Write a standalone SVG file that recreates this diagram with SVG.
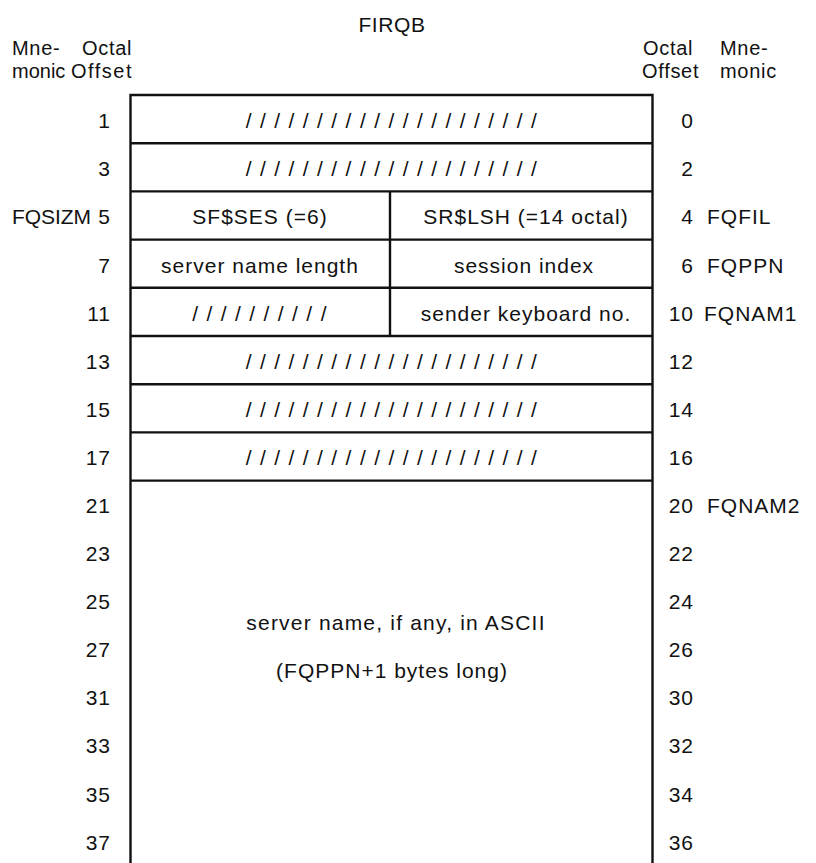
<svg xmlns="http://www.w3.org/2000/svg" width="816" height="863" viewBox="0 0 816 863">
<style>
text{font-family:"Liberation Sans",Arial,sans-serif;font-size:21px;fill:#111;letter-spacing:1px}
.h{font-size:20px;letter-spacing:0.7px}
.c{text-anchor:middle}
.r{text-anchor:end}
.sl{letter-spacing:1.3px}
.box{fill:none;stroke:#111;stroke-width:2.4}
</style>
<rect width="816" height="863" fill="#fff"/>
<g id="header">
<text x="392" y="32" class="c" style="letter-spacing:0.6px">FIRQB</text>
<text x="12" y="55" class="h">Mne-</text>
<text x="82" y="55" class="h">Octal</text>
<text x="12" y="78" class="h" style="letter-spacing:0px">monic</text>
<text x="71" y="78" class="h" style="letter-spacing:1.5px">Offset</text>
<text x="643" y="55" class="h">Octal</text>
<text x="642" y="78" class="h">Offset</text>
<text x="720" y="55" class="h">Mne-</text>
<text x="720" y="78" class="h">monic</text>
</g>
<g id="frame">
<path class="box" d="M130.5,863 V95 H652.5 V863"/>
<path class="box" d="M130.5,143.2 H652.5 M130.5,191.4 H652.5 M130.5,239.6 H652.5 M130.5,287.8 H652.5 M130.5,336 H652.5 M130.5,384.2 H652.5 M130.5,432.4 H652.5 M130.5,480.6 H652.5"/>
<path class="box" d="M390,191.4 V336"/>
</g>
<g id="row0"><text x="111" y="128" class="r">1</text><text x="392" y="128" class="c sl">/ / / / / / / / / / / / / / / / / / / / /</text><text x="694" y="128" class="r">0</text></g>
<g id="row2"><text x="111" y="176" class="r">3</text><text x="392" y="176" class="c sl">/ / / / / / / / / / / / / / / / / / / / /</text><text x="694" y="176" class="r">2</text></g>
<g id="row4"><text x="12" y="224" textLength="80">FQSIZM</text><text x="111" y="224" class="r">5</text><text x="260" y="224" class="c">SF$SES (=6)</text><text x="526" y="224" class="c">SR$LSH (=14 octal)</text><text x="694" y="224" class="r">4</text><text x="707" y="224">FQFIL</text></g>
<g id="row6"><text x="111" y="273" class="r">7</text><text x="260" y="273" class="c">server name length</text><text x="524" y="273" class="c">session index</text><text x="694" y="273" class="r">6</text><text x="707" y="273">FQPPN</text></g>
<g id="row10"><text x="111" y="321" class="r">11</text><text x="260" y="321" class="c sl">/ / / / / / / / / /</text><text x="526" y="321" class="c">sender keyboard no.</text><text x="694" y="321" class="r">10</text><text x="704" y="321">FQNAM1</text></g>
<g id="row12"><text x="111" y="369" class="r">13</text><text x="392" y="369" class="c sl">/ / / / / / / / / / / / / / / / / / / / /</text><text x="694" y="369" class="r">12</text></g>
<g id="row14"><text x="111" y="417" class="r">15</text><text x="392" y="417" class="c sl">/ / / / / / / / / / / / / / / / / / / / /</text><text x="694" y="417" class="r">14</text></g>
<g id="row16"><text x="111" y="465" class="r">17</text><text x="392" y="465" class="c sl">/ / / / / / / / / / / / / / / / / / / / /</text><text x="694" y="465" class="r">16</text></g>
<g id="name">
<text x="111" y="513" class="r">21</text><text x="694" y="513" class="r">20</text><text x="707" y="513">FQNAM2</text>
<text x="111" y="561" class="r">23</text><text x="694" y="561" class="r">22</text>
<text x="111" y="609" class="r">25</text><text x="694" y="609" class="r">24</text>
<text x="111" y="657" class="r">27</text><text x="694" y="657" class="r">26</text>
<text x="111" y="705" class="r">31</text><text x="694" y="705" class="r">30</text>
<text x="111" y="753" class="r">33</text><text x="694" y="753" class="r">32</text>
<text x="111" y="802" class="r">35</text><text x="694" y="802" class="r">34</text>
<text x="111" y="850" class="r">37</text><text x="694" y="850" class="r">36</text>
<text x="396" y="630" class="c" style="letter-spacing:1.2px">server name, if any, in ASCII</text>
<text x="392" y="678" class="c">(FQPPN+1 bytes long)</text>
</g>
</svg>
